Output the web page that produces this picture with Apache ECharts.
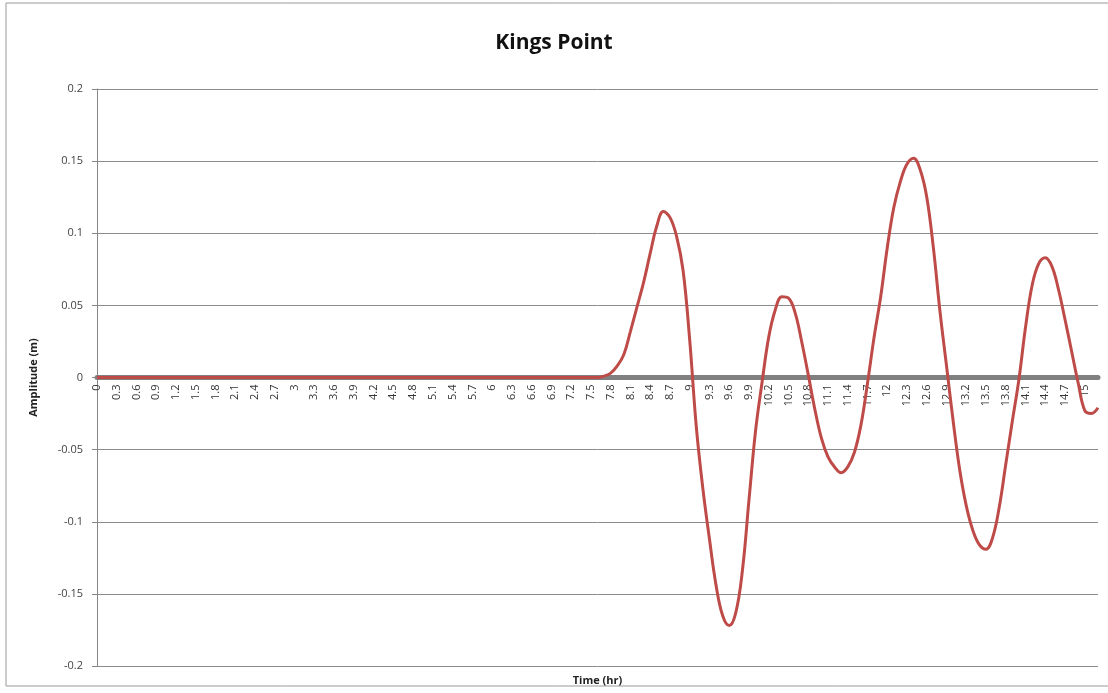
<!DOCTYPE html>
<html lang="en">
<head>
    <meta charset="UTF-8">
    <title>Kings Point</title>
    <script src="https://cdn.jsdelivr.net/npm/echarts@6/dist/echarts.min.js"></script>
    <style>
        body{
            margin: 0;
            background: #fff;
        }
        #chart{
            width: 1108px;
            height: 693px;
        }
    </style>
</head>
<body>
<div id="chart"></div>
<script>
    // time steps (hr), 0 .. 15.2 every 0.1
    var times = [];
    for (var i = 0; i <= 152; i++) {
        times.push(String(i / 10));
    }

    // amplitude (m): flat until ~7.6 hr, then the wave train
    var flatPart = [];
    for (var k = 0; k <= 76; k++) flatPart.push(0);
    var wavePart = [
        0.001, 0.003, 0.008, 0.016, 0.032, 0.049, 0.066, 0.086, 0.105, 0.115,   // 7.7 - 8.6
        0.111, 0.098, 0.074, 0.026, -0.034, -0.077, -0.112, -0.144, -0.165, -0.172, // 8.7 - 9.6
        -0.163, -0.134, -0.085, -0.037, -0.003, 0.028, 0.047, 0.056, 0.055, 0.045, // 9.7 - 10.6
        0.025, 0.002, -0.022, -0.042, -0.055, -0.062, -0.066, -0.062, -0.052, -0.033, // 10.7 - 11.6
        -0.004, 0.028, 0.056, 0.09, 0.118, 0.136, 0.148, 0.152, 0.144, 0.125,      // 11.7 - 12.6
        0.09, 0.046, 0.008, -0.03, -0.064, -0.089, -0.106, -0.116, -0.119, -0.111, // 12.7 - 13.6
        -0.09, -0.06, -0.03, -0.001, 0.035, 0.064, 0.079, 0.083, 0.077, 0.061,  // 13.7 - 14.6
        0.04, 0.018, -0.004, -0.023, -0.025, -0.021                              // 14.7 - 15.2
    ];
    var amplitude = flatPart.concat(wavePart);

    var myChart = echarts.init(document.getElementById('chart'));
    myChart.setOption({
        animation: false,
        title: {
            text: 'Kings Point',
            left: 'center',
            top: 28,
            textStyle: {fontFamily: 'Open Sans', fontSize: 21, fontWeight: 'bold', color: '#111'}
        },
        graphic: [{
            type: 'rect',
            shape: {x: 6, y: 3, width: 1200, height: 683},
            style: {fill: null, stroke: '#999', lineWidth: 1},
            silent: true
        }],
        grid: {left: 97, right: 10, top: 89, bottom: 27, containLabel: false, outerBoundsMode: 'none'},
        xAxis: {
            type: 'category',
            data: times,
            boundaryGap: false,
            position: 'bottom',
            offset: -288.5,   // put the axis (and its labels) on the zero line
            name: 'Time (hr)',
            nameLocation: 'middle',
            nameGap: 298,
            nameTextStyle: {fontFamily: 'Open Sans', fontSize: 11, fontWeight: 'bold', color: '#222'},
            axisLine: {onZero: false, lineStyle: {color: '#808080', width: 5}},
            axisTick: {show: false},
            axisLabel: {
                interval: 2,
                rotate: 90,
                margin: 7,
                fontFamily: 'Open Sans',
                fontSize: 11,
                color: '#333'
            }
        },
        yAxis: {
            type: 'value',
            min: -0.2,
            max: 0.2,
            interval: 0.05,
            name: 'Amplitude (m)',
            nameLocation: 'middle',
            nameGap: 58,
            nameTextStyle: {fontFamily: 'Open Sans', fontSize: 11, fontWeight: 'bold', color: '#222'},
            axisLine: {show: true, lineStyle: {color: '#868686'}},
            axisTick: {show: true, length: 5, lineStyle: {color: '#868686'}},
            axisLabel: {
                margin: 14,
                fontFamily: 'Open Sans',
                fontSize: 11,
                color: '#444',
                formatter: function (v) { return String(Math.round(v * 100) / 100); }
            },
            splitLine: {lineStyle: {color: '#8c8c8c'}}
        },
        series: [{
            name: 'Kings Point',
            type: 'line',
            data: amplitude,
            smooth: 0.4,
            symbol: 'none',
            lineStyle: {color: '#be4b48', width: 3}
        }]
    });
</script>
</body>
</html>
